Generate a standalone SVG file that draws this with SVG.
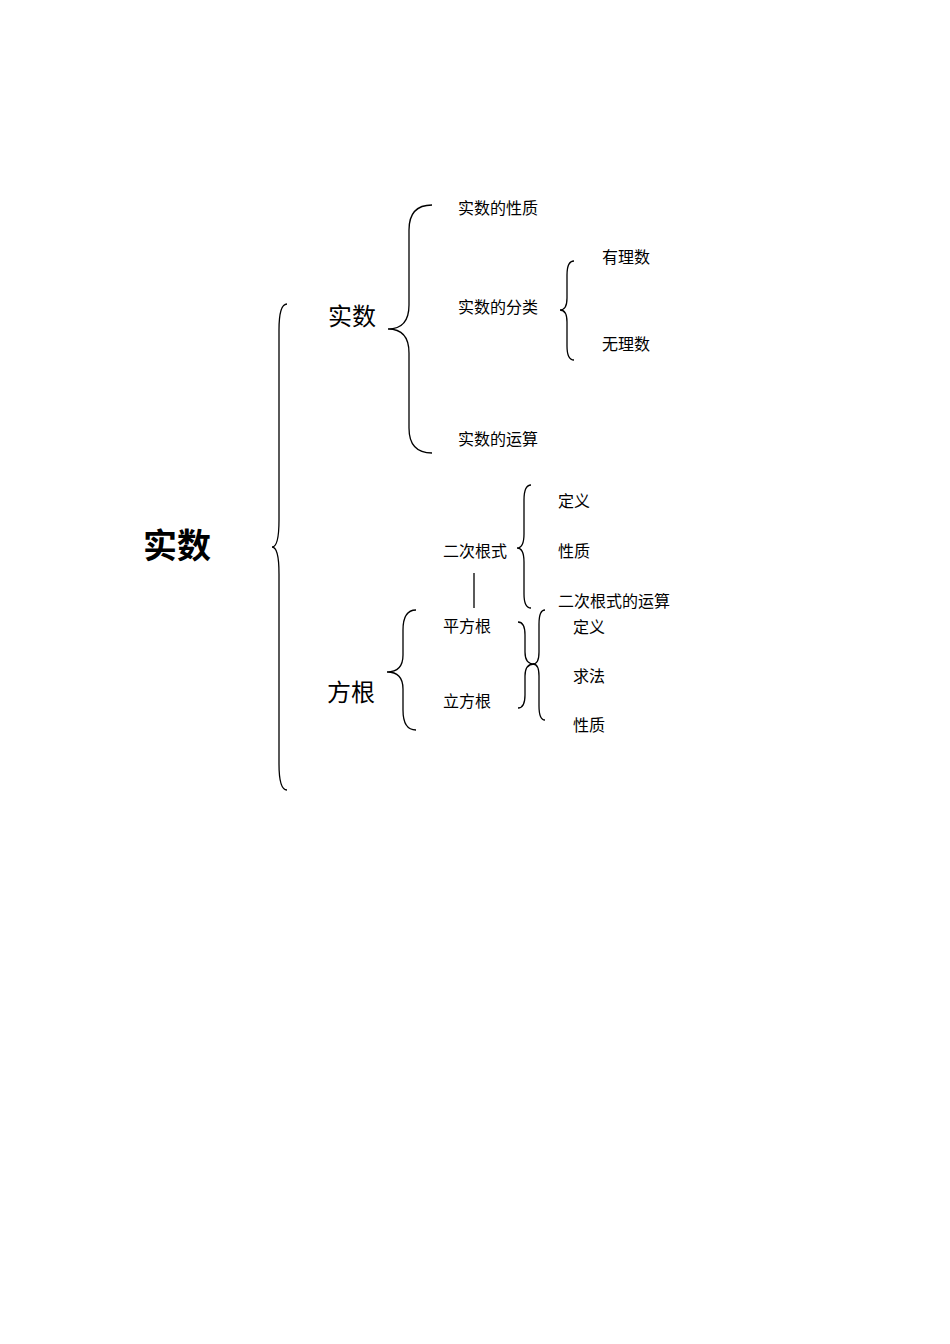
<svg xmlns="http://www.w3.org/2000/svg" width="950" height="1344" viewBox="0 0 950 1344">
<style>
.t{font-family:"Noto Sans CJK SC","Liberation Serif",sans-serif;font-size:16px;fill:#000;dominant-baseline:central}
.m{font-size:24px}
.b{font-size:34px;font-weight:bold}
.br{fill:none;stroke:#000;stroke-width:1.3}
</style>
<rect width="950" height="1344" fill="#fff"/>
<g id="connectors">
<path class="br" d="M287 304 Q279 304 279 330 L279 520 Q279 547 272 547 Q279 547 279 574 L279 764 Q279 790 287 790"/>
<path class="br" d="M432 205 Q409 205 409 230 L409 305 Q409 329 388 329 Q409 329 409 353 L409 428 Q409 453 432 453"/>
<path class="br" d="M574 261 Q567 261 567 275 L567 298 Q567 310 560 310 Q567 310 567 322 L567 346 Q567 360 574 360"/>
<path class="br" d="M531 485 Q524 485 524 500 L524 534 Q524 548 517 548 Q524 548 524 562 L524 594 Q524 608 531 608"/>
<path class="br" d="M416 610 Q403 610 403 630 L403 655 Q403 672 387 672 Q403 672 403 689 L403 710 Q403 730 416 730"/>
<path class="br" d="M518 622 Q525 622 525 635 L525 652 Q525 664 534 664 Q525 664 525 676 L525 695 Q525 708 518 708"/>
<path class="br" d="M545 610 Q539 610 539 624 L539 652 Q539 664 533 664 Q539 664 539 676 L539 706 Q539 720 545 720"/>
<line class="br" x1="474" y1="573" x2="474" y2="608"/>
</g>
<g id="root"><text class="t b" x="143" y="543">实数</text></g>
<g id="n-shishu"><text class="t m" x="328" y="314">实数</text></g>
<g id="n-fanggen"><text class="t m" x="327" y="690">方根</text></g>
<g id="n-xingzhi"><text class="t" x="458" y="207">实数的性质</text></g>
<g id="n-fenlei"><text class="t" x="458" y="306">实数的分类</text></g>
<g id="n-yunsuan"><text class="t" x="458" y="438">实数的运算</text></g>
<g id="n-youli"><text class="t" x="602" y="256">有理数</text></g>
<g id="n-wuli"><text class="t" x="602" y="343">无理数</text></g>
<g id="n-ercigenshi"><text class="t" x="443" y="550">二次根式</text></g>
<g id="n-dingyi1"><text class="t" x="558" y="500">定义</text></g>
<g id="n-xingzhi1"><text class="t" x="558" y="550">性质</text></g>
<g id="n-yunsuan2"><text class="t" x="558" y="600">二次根式的运算</text></g>
<g id="n-pingfanggen"><text class="t" x="443" y="625">平方根</text></g>
<g id="n-lifanggen"><text class="t" x="443" y="700">立方根</text></g>
<g id="n-dingyi2"><text class="t" x="573" y="626">定义</text></g>
<g id="n-qiufa"><text class="t" x="573" y="675">求法</text></g>
<g id="n-xingzhi2"><text class="t" x="573" y="724">性质</text></g>
</svg>
